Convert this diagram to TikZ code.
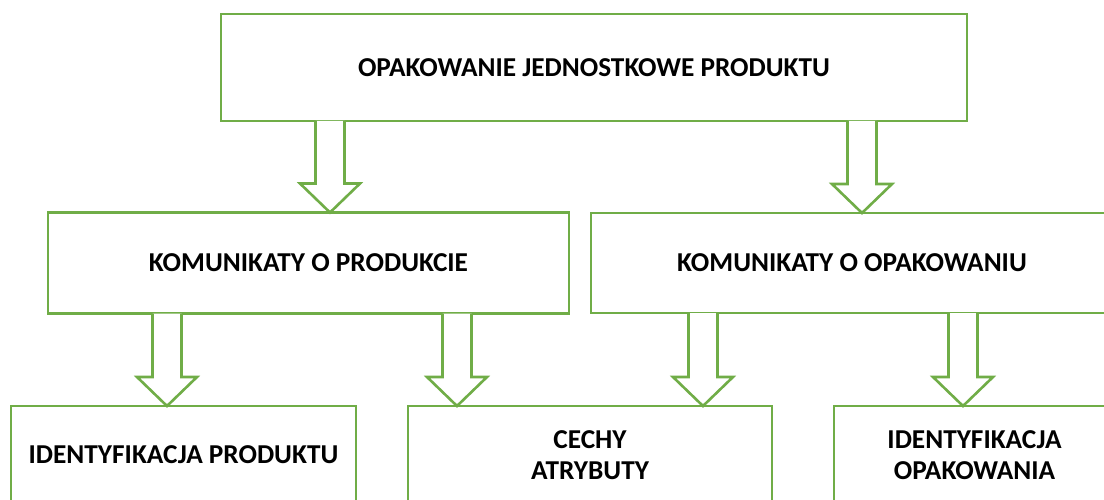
\documentclass[tikz,border=0pt]{standalone}
\usepackage{fontspec}
\setmainfont{Carlito}
\usetikzlibrary{calc}
\definecolor{officegreen}{HTML}{70AD47}
\tikzset{
  box/.style={draw=officegreen, line width=2.6pt, rectangle, inner sep=0pt, outer sep=0pt,
    anchor=north west, align=center,
    font=\fontsize{27.3}{31}\selectfont\bfseries},
  arrowline/.style={draw=officegreen, line width=2.6pt, line join=miter, fill=white}
}
% hollow block arrow at horizontal position #1 (pt) from node #2 down to node #3
\newcommand\blockarrow[3]{%
  \draw[arrowline] let \p1=(#2.south), \p2=(#3.north) in
    (#1pt-14.5pt,\y1) -- (#1pt-14.5pt,\y2+29pt) -- (#1pt-30pt,\y2+29pt) -- (#1pt,\y2)
    -- (#1pt+30pt,\y2+29pt) -- (#1pt+14.5pt,\y2+29pt) -- (#1pt+14.5pt,\y1);}
\begin{document}
\begin{tikzpicture}[x=1pt,y=-1pt]
  \clip (0,0) rectangle (1104,500);
  \fill[white] (0,0) rectangle (1104,500);
  % level 1
  \node[box, minimum width=746pt, minimum height=107pt] (top) at (221,14)
    {\raisebox{-3pt}{OPAKOWANIE JEDNOSTKOWE PRODUKTU}};
  % level 2
  \node[box, minimum width=521pt, minimum height=101pt] (prod) at (48,212.5)
    {\raisebox{-2pt}{KOMUNIKATY O PRODUKCIE}};
  \node[box, minimum width=522pt, minimum height=100pt] (opak) at (591,213)
    {\raisebox{-2pt}{KOMUNIKATY O OPAKOWANIU}};
  % level 3
  \node[box, minimum width=345pt, minimum height=98pt] (idprod) at (11,406)
    {IDENTYFIKACJA PRODUKTU};
  \node[box, minimum width=364pt, minimum height=98pt] (cechy) at (408,406)
    {CECHY\\ATRYBUTY};
  \node[box, minimum width=281pt, minimum height=98pt] (idopak) at (834,406)
    {IDENTYFIKACJA\\OPAKOWANIA};
  % connectors
  \blockarrow{330}{top}{prod}
  \blockarrow{862}{top}{opak}
  \blockarrow{167}{prod}{idprod}
  \blockarrow{457}{prod}{cechy}
  \blockarrow{703}{opak}{cechy}
  \blockarrow{963}{opak}{idopak}
\end{tikzpicture}
\end{document}
